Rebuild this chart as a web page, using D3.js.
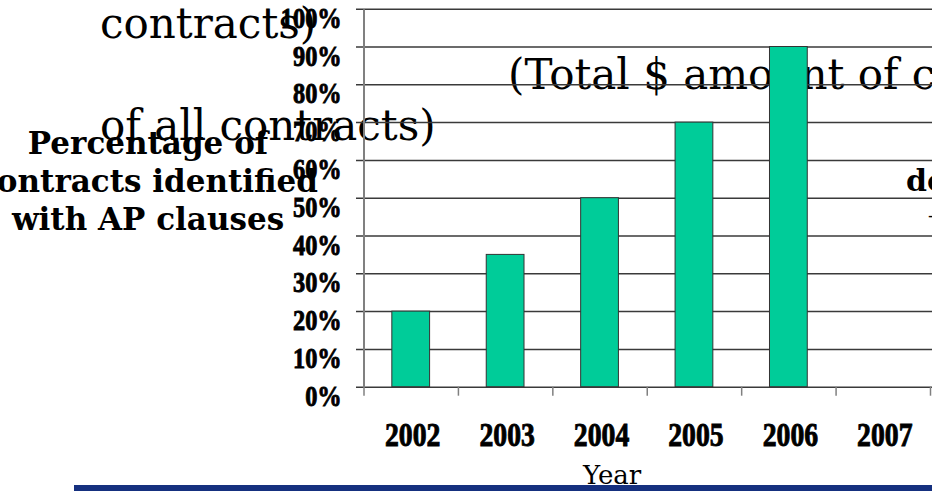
<!DOCTYPE html>
<html lang="en">
	<head>
		<meta charset="utf-8">
		<title>Contracts identified with AP clauses</title>
		<script src="https://d3js.org/d3.v7.min.js" charset="utf-8"></script>
		<style type="text/css">
			body {
				margin: 0;
				background: white;
			}
			svg {
				display: block;
			}
			.title {
				font-family: "DejaVu Serif", serif;
				font-size: 42px;
			}
			.ylab {
				font-family: "DejaVu Serif", serif;
				font-weight: bold;
				font-size: 31px;
			}
			.ticklab text {
				font-family: "Liberation Serif", serif;
				font-weight: bold;
				fill: black;
				stroke: black;
				stroke-width: 0.9px;
			}
		</style>
	</head>
	<body>
		<script>

			// Data
			var years = ["2002", "2003", "2004", "2005", "2006", "2007"];
			var pctWithAP = [0.20, 0.35, 0.50, 0.70, 0.90, 0];
			var yTicks = [0, 0.1, 0.2, 0.3, 0.4, 0.5, 0.6, 0.7, 0.8, 0.9, 1.0];

			// Width and height
			var w = 932;
			var h = 491;

			var plotLeft = 363.5, plotRight = 930;
			var plotTop = 8.7, plotBottom = 386.7;

			var svg = d3.select("body")
				.append("svg")
				.attr("width", w)
				.attr("height", h);

			// Scales
			var yScale = d3.scaleLinear()
				.domain([0, 1])
				.range([plotBottom, plotTop]);

			var xScale = d3.scaleBand()
				.domain(years)
				.range([plotLeft, plotRight])
				.paddingInner(0.6)
				.paddingOuter(0.3);

			// category boundaries for the little tick marks under the axis
			var xEdges = d3.scaleLinear()
				.domain([0, years.length])
				.range([plotLeft, plotRight]);

			// Leftover title pieces (drawn first, grid goes over them)
			svg.append("text").attr("class", "title")
				.attr("x", 100).attr("y", 38)
				.text("contracts)");
			svg.append("text").attr("class", "title")
				.attr("x", 508).attr("y", 89)
				.text("(Total $ amount of contracts)");
			svg.append("text").attr("class", "title")
				.attr("x", 100).attr("y", 140)
				.text("of all contracts)");

			// Gridlines
			var grid = svg.append("g")
				.attr("transform", "translate(356,0)")
				.call(d3.axisLeft(yScale)
					.tickValues(yTicks)
					.tickSize(-(w - 356))
					.tickFormat(""));
			grid.select(".domain").remove();
			grid.selectAll("line")
				.attr("stroke", "#3a3a3a")
				.attr("stroke-width", 1.5);

			// Bars
			svg.selectAll("rect.bar")
				.data(pctWithAP)
				.enter()
				.append("rect")
				.attr("class", "bar")
				.attr("x", function(d, i) { return xScale(years[i]); })
				.attr("y", function(d) { return yScale(d); })
				.attr("width", xScale.bandwidth())
				.attr("height", function(d) { return plotBottom - yScale(d); })
				.attr("fill", "#00cc99")
				.attr("stroke", function(d) { return d > 0 ? "#333" : "none"; })
				.attr("stroke-width", 1);

			// Y axis line + labels
			var yAxis = svg.append("g")
				.attr("class", "ticklab")
				.attr("transform", "translate(" + plotLeft + ",0)")
				.call(d3.axisLeft(yScale)
					.tickValues(yTicks)
					.tickSize(0)
					.tickPadding(26)
					.tickFormat(d3.format(".0%")));
			yAxis.select(".domain")
				.attr("stroke", "#808080")
				.attr("stroke-width", 2);
			yAxis.selectAll("text")
				.attr("font-size", 29)
				.attr("dy", "0.64em")
				.attr("transform", "scale(0.84,1)");

			// X tick marks
			var xTicks = svg.append("g")
				.attr("transform", "translate(0," + plotBottom + ")")
				.call(d3.axisBottom(xEdges)
					.ticks(years.length)
					.tickSize(9)
					.tickFormat(""));
			xTicks.select(".domain").remove();
			xTicks.selectAll("line")
				.attr("stroke", "#808080")
				.attr("stroke-width", 1.5);

			// X labels
			var xAxis = svg.append("g")
				.attr("class", "ticklab")
				.attr("transform", "translate(2," + plotBottom + ")")
				.call(d3.axisBottom(xScale).tickSize(0));
			xAxis.select(".domain").remove();
			xAxis.selectAll("text")
				.attr("font-size", 33)
				.attr("y", 59)
				.attr("dy", 0)
				.attr("x", 0)
				.attr("transform", "scale(0.84,1)");
			// scale() would pull labels toward 0, so move each tick group instead
			xAxis.selectAll(".tick")
				.attr("transform", function(d) {
					return "translate(" + (xScale(d) + xScale.bandwidth() / 2) + ",0)";
				});

			// Y axis title
			var ytitle = ["Percentage of", "contracts identified", "with AP clauses"];
			svg.selectAll("text.ylab")
				.data(ytitle)
				.enter()
				.append("text")
				.attr("class", "ylab")
				.attr("text-anchor", "middle")
				.attr("x", 148)
				.attr("y", function(d, i) { return 154 + i * 38; })
				.text(function(d) { return d; });

			// cut-off text on the right edge
			svg.append("text")
				.attr("class", "ylab")
				.style("font-size", "30px")
				.attr("x", 906).attr("y", 191)
				.text("dollars");
			svg.append("text")
				.attr("font-family", "DejaVu Serif")
				.attr("font-size", 18)
				.attr("x", 928).attr("y", 222)
				.text("-");

			// X axis title
			svg.append("text")
				.attr("font-family", "DejaVu Serif")
				.attr("font-size", 26)
				.attr("x", 583).attr("y", 484)
				.text("Year");

			// blue rule at the bottom
			svg.append("rect")
				.attr("x", 74).attr("y", 485)
				.attr("width", w - 74).attr("height", 6)
				.attr("fill", "#15307f");

		</script>
	</body>
</html>
